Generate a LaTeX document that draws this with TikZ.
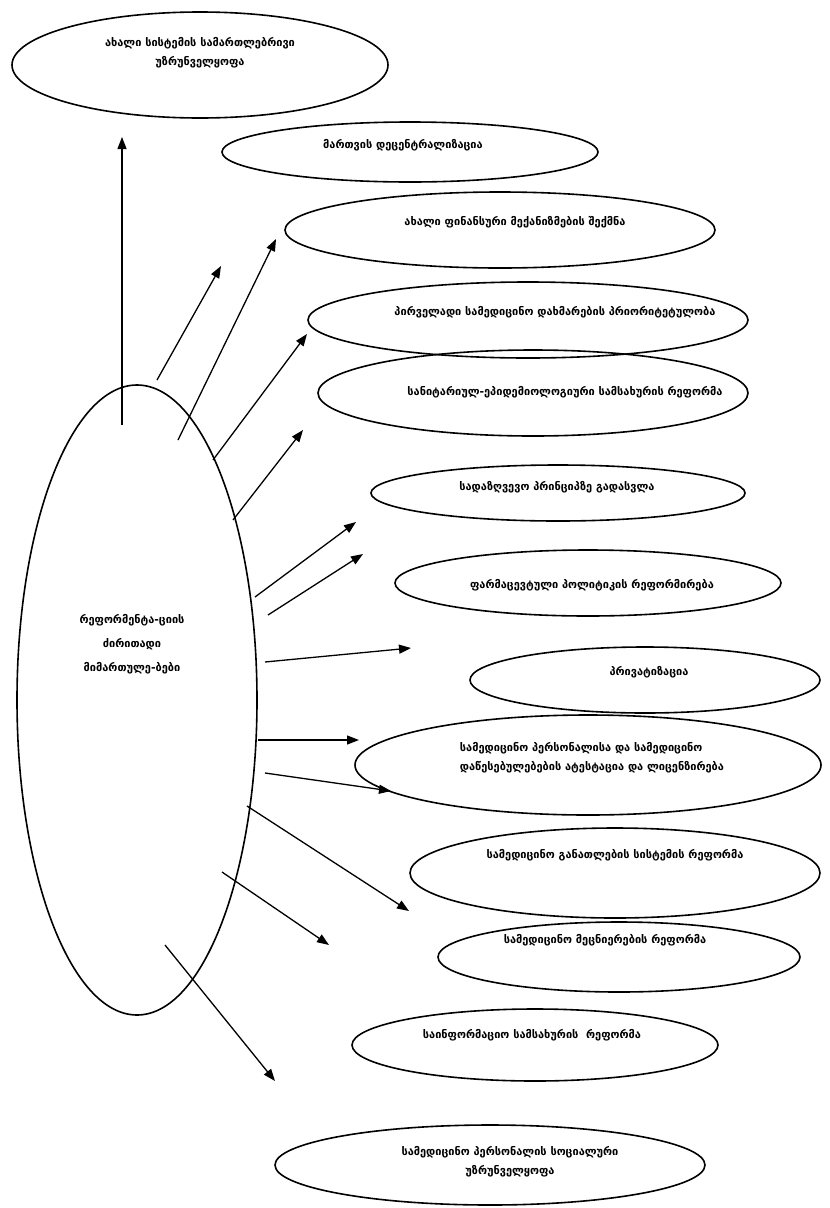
\documentclass[tikz,border=0pt]{standalone}
\usepackage{fontspec}
\setmainfont{DejaVu Sans}
\usetikzlibrary{shapes.geometric,arrows.meta}
\begin{document}
\begin{tikzpicture}[x=1pt,y=-1pt,
  ell/.style={draw=black,line width=1.6pt,ellipse,inner sep=0pt},
  txt/.style={inner sep=0pt,align=center,
    font=\bfseries\fontsize{11}{19}\selectfont},
  arr/.style={draw=black,line width=1.3pt,-{Triangle[length=12pt,width=9pt]}}]
\useasboundingbox (0,0) rectangle (830,1208);
\fill[white] (0,0) rectangle (830,1208);

% central node
\node[ell,minimum width=240pt,minimum height=630pt] (c) at (137,700) {};
\node[txt,font=\bfseries\fontsize{11}{24}\selectfont] (ct) at (132,644)
  {რეფორმენტა-ციის\\ძირითადი\\მიმართულე-ბები};

% surrounding directions: outline, then its text
\node[ell,minimum width=376pt,minimum height=106pt] (n1) at (200,65) {};
\node[txt] (t1) at (200,53) {ახალი სისტემის სამართლებრივი\\უზრუნველყოფა};
\node[ell,minimum width=376pt,minimum height=60pt] (n2) at (410,152) {};
\node[txt] (t2) at (403,145) {მართვის დეცენტრალიზაცია};
\node[ell,minimum width=430pt,minimum height=76pt] (n3) at (500,230) {};
\node[txt] (t3) at (515,222) {ახალი ფინანსური მექანიზმების შექმნა};
\node[ell,minimum width=440pt,minimum height=76pt] (n4) at (528,320) {};
\node[txt] (t4) at (555,312) {პირველადი სამედიცინო დახმარების პრიორიტეტულობა};
\node[ell,minimum width=430pt,minimum height=86pt] (n5) at (533,393) {};
\node[txt] (t5) at (565,392) {სანიტარიულ-ეპიდემიოლოგიური სამსახურის რეფორმა};
\node[ell,minimum width=374pt,minimum height=56pt] (n6) at (558,493) {};
\node[txt] (t6) at (557,487) {სადაზღვევო პრინციპზე გადასვლა};
\node[ell,minimum width=386pt,minimum height=66pt] (n7) at (588,583) {};
\node[txt] (t7) at (592,585) {ფარმაცევტული პოლიტიკის რეფორმირება};
\node[ell,minimum width=350pt,minimum height=66pt] (n8) at (645,680) {};
\node[txt] (t8) at (649,672) {პრივატიზაცია};
\node[ell,minimum width=466pt,minimum height=100pt] (n9) at (588,765) {};
\node[txt,align=left] (t9) at (592,758)
  {სამედიცინო პერსონალისა და სამედიცინო\\დაწესებულებების ატესტაცია და ლიცენზირება};
\node[ell,minimum width=410pt,minimum height=90pt] (n10) at (615,873) {};
\node[txt] (t10) at (615,855) {სამედიცინო განათლების სისტემის რეფორმა};
\node[ell,minimum width=362pt,minimum height=70pt] (n11) at (619,957) {};
\node[txt] (t11) at (605,940) {სამედიცინო მეცნიერების რეფორმა};
\node[ell,minimum width=366pt,minimum height=72pt] (n12) at (535,1045) {};
\node[txt] (t12) at (532,1035) {საინფორმაციო სამსახურის\ \ რეფორმა};
\node[ell,minimum width=430pt,minimum height=80pt] (n13) at (490,1165) {};
\node[txt] (t13) at (510,1162) {სამედიცინო პერსონალის სოციალური\\უზრუნველყოფა};

% arrow ends
\coordinate (s1) at (122,425);  \coordinate (e1) at (122,137);
\coordinate (s2) at (157,380);  \coordinate (e2) at (221,266);
\coordinate (s3) at (178,440);  \coordinate (e3) at (276,239);
\coordinate (s4) at (213,460);  \coordinate (e4) at (307,334);
\coordinate (s5) at (233,520);  \coordinate (e5) at (303,430);
\coordinate (s6) at (255,597);  \coordinate (e6) at (356,522);
\coordinate (s7) at (268,615);  \coordinate (e7) at (363,554);
\coordinate (s8) at (265,662);  \coordinate (e8) at (411,648);
\coordinate (s9) at (258,740);  \coordinate (e9) at (359,740);
\coordinate (s10) at (265,773); \coordinate (e10) at (391,791);
\coordinate (s11) at (247,806); \coordinate (e11) at (409,911);
\coordinate (s12) at (222,872); \coordinate (e12) at (329,945);
\coordinate (s13) at (165,945); \coordinate (e13) at (275,1081);

\foreach \i in {1,...,13} \draw[arr] (s\i) -- (e\i);
\end{tikzpicture}
\end{document}
